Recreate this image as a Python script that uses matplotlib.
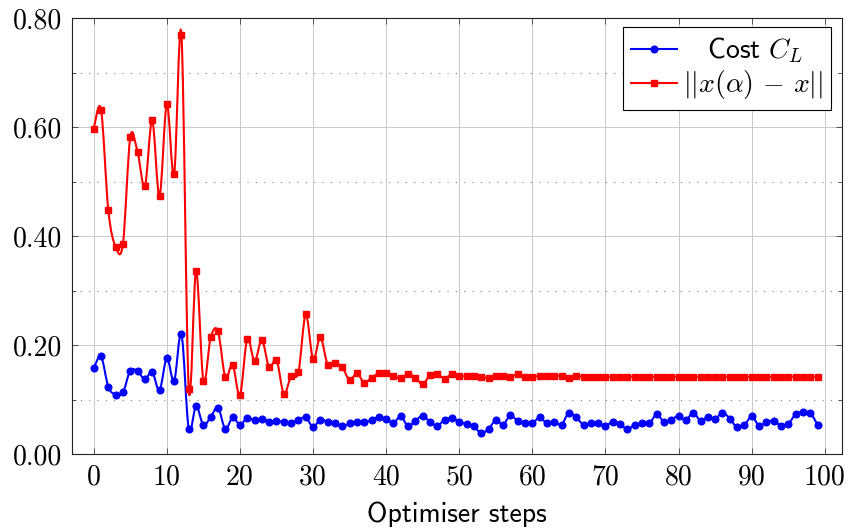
#!/usr/bin/env python3
import numpy as np
import matplotlib
matplotlib.use("Agg")
import matplotlib.pyplot as plt
from matplotlib.path import Path
from matplotlib.patches import PathPatch
from matplotlib.lines import Line2D

# optimiser steps and the two tracked quantities
steps = list(range(100))
cost = [0.157, 0.179, 0.123, 0.109, 0.113, 0.153, 0.152, 0.137, 0.151, 0.117,
        0.176, 0.134, 0.220, 0.046, 0.088, 0.053, 0.068, 0.085, 0.046, 0.067,
        0.054, 0.066, 0.062, 0.065, 0.059, 0.060, 0.059, 0.057, 0.063, 0.067,
        0.050, 0.063, 0.059, 0.056, 0.051, 0.056, 0.058, 0.059, 0.062, 0.068,
        0.064, 0.057, 0.069, 0.051, 0.061, 0.070, 0.059, 0.052, 0.063, 0.066,
        0.059, 0.055, 0.051, 0.038, 0.046, 0.062, 0.054, 0.071, 0.060, 0.056,
        0.056, 0.067, 0.056, 0.059, 0.054, 0.076, 0.067, 0.054, 0.056, 0.056,
        0.052, 0.059, 0.055, 0.045, 0.054, 0.056, 0.056, 0.073, 0.059, 0.063,
        0.070, 0.062, 0.076, 0.061, 0.068, 0.064, 0.076, 0.065, 0.049, 0.053,
        0.069, 0.052, 0.058, 0.061, 0.052, 0.055, 0.073, 0.077, 0.075, 0.054]
dist = [0.597, 0.632, 0.447, 0.380, 0.386, 0.581, 0.554, 0.491, 0.612, 0.473,
        0.642, 0.513, 0.769, 0.119, 0.336, 0.134, 0.214, 0.225, 0.141, 0.164,
        0.108, 0.211, 0.170, 0.209, 0.159, 0.173, 0.111, 0.143, 0.150, 0.256,
        0.174, 0.214, 0.164, 0.167, 0.159, 0.136, 0.148, 0.131, 0.140, 0.148,
        0.149, 0.143, 0.139, 0.147, 0.140, 0.128, 0.145, 0.147, 0.138, 0.147,
        0.143, 0.143, 0.143, 0.142, 0.139, 0.143, 0.144, 0.142, 0.146, 0.142,
        0.142, 0.143, 0.143, 0.143, 0.143, 0.140, 0.143, 0.142, 0.142, 0.142,
        0.142, 0.142, 0.142, 0.142, 0.142, 0.142, 0.142, 0.142, 0.142, 0.142,
        0.142, 0.142, 0.142, 0.142, 0.142, 0.142, 0.142, 0.142, 0.142, 0.142,
        0.142, 0.142, 0.142, 0.142, 0.142, 0.142, 0.142, 0.142, 0.142, 0.142]

x_ticks = [0, 10, 20, 30, 40, 50, 60, 70, 80, 90, 100]
y_ticks = [0.0, 0.2, 0.4, 0.6, 0.8]
y_minor = [0.1, 0.3, 0.5, 0.7]


def smooth_path(xs, ys):
    """Bezier path through the points (like pgfplots 'smooth')."""
    p = np.column_stack([xs, ys]).astype(float)
    ext = np.vstack([p[0], p, p[-1]])
    verts = [p[0]]
    codes = [Path.MOVETO]
    for i in range(len(p) - 1):
        c1 = p[i] + (ext[i + 2] - ext[i]) / 6.0
        c2 = p[i + 1] - (ext[i + 3] - ext[i + 1]) / 6.0
        verts += [c1, c2, p[i + 1]]
        codes += [Path.CURVE4] * 3
    return Path(verts, codes)


def main():
    plt.rcParams["mathtext.fontset"] = "cm"
    plt.rcParams["axes.unicode_minus"] = False
    plt.rcParams["lines.scale_dashes"] = False

    fig = plt.figure(figsize=(8.48, 5.28), dpi=100)
    ax = fig.add_axes([72 / 848, 74 / 528, 770 / 848, 436 / 528])

    series = [(cost, "blue", "o", 4.8), (dist, "red", "s", 5.0)]
    z = 2
    for vals, col, mk, ms in series:
        ax.add_patch(PathPatch(smooth_path(steps, vals), fill=False,
                               edgecolor=col, lw=1.5, zorder=z))
        ax.plot(steps, vals, linestyle="none", marker=mk, ms=ms,
                color=col, mec=col, zorder=z + 0.5)
        z += 1

    ax.set_xlim(-2.97, 102.35)
    ax.set_ylim(0, 0.8)
    ax.set_xticks(x_ticks)
    ax.set_xticklabels([str(t) for t in x_ticks], fontfamily="cmr10",
                       fontsize=20)
    ax.set_yticks(y_ticks)
    ax.set_yticklabels(["%.2f" % t for t in y_ticks], fontfamily="cmr10",
                       fontsize=20)
    ax.set_yticks(y_minor, minor=True)

    ax.grid(True, which="major", color="#c8c8c8", lw=0.7, zorder=0)
    ax.grid(True, which="minor", axis="y", color="#808080", lw=0.8,
            linestyle=(0, (0.8, 5.2)))
    ax.set_axisbelow(True)
    ax.tick_params(which="both", direction="in", top=True, right=True,
                   color="#505050", width=0.7)
    ax.tick_params(which="major", length=4.5, pad=7)
    ax.tick_params(which="minor", length=3)
    for sp in ax.spines.values():
        sp.set_color("#222222")
        sp.set_linewidth(0.8)

    ax.set_xlabel("Optimiser steps", fontfamily="cmss10", fontsize=20,
                  labelpad=8)

    handles = [Line2D([], [], color="blue", marker="o", ms=4.8, lw=1.5),
               Line2D([], [], color="red", marker="s", ms=5.0, lw=1.5)]
    labels = [r"$\;\;\;\,$Cost $C_L$", r"$||x(\alpha)\,-\,x||\;\;$"]
    leg = ax.legend(handles, labels, loc="upper right",
                    bbox_to_anchor=(1 - 11 / 770, 1 - 9 / 436),
                    borderaxespad=0, fancybox=False, framealpha=1,
                    edgecolor="black", handlelength=1.65, handletextpad=0.2,
                    borderpad=0.3, labelspacing=0.12,
                    prop={"family": "cmss10", "size": 20})
    leg.get_frame().set_linewidth(0.8)

    fig.savefig("out.png", dpi=100)


if __name__ == "__main__":
    main()
